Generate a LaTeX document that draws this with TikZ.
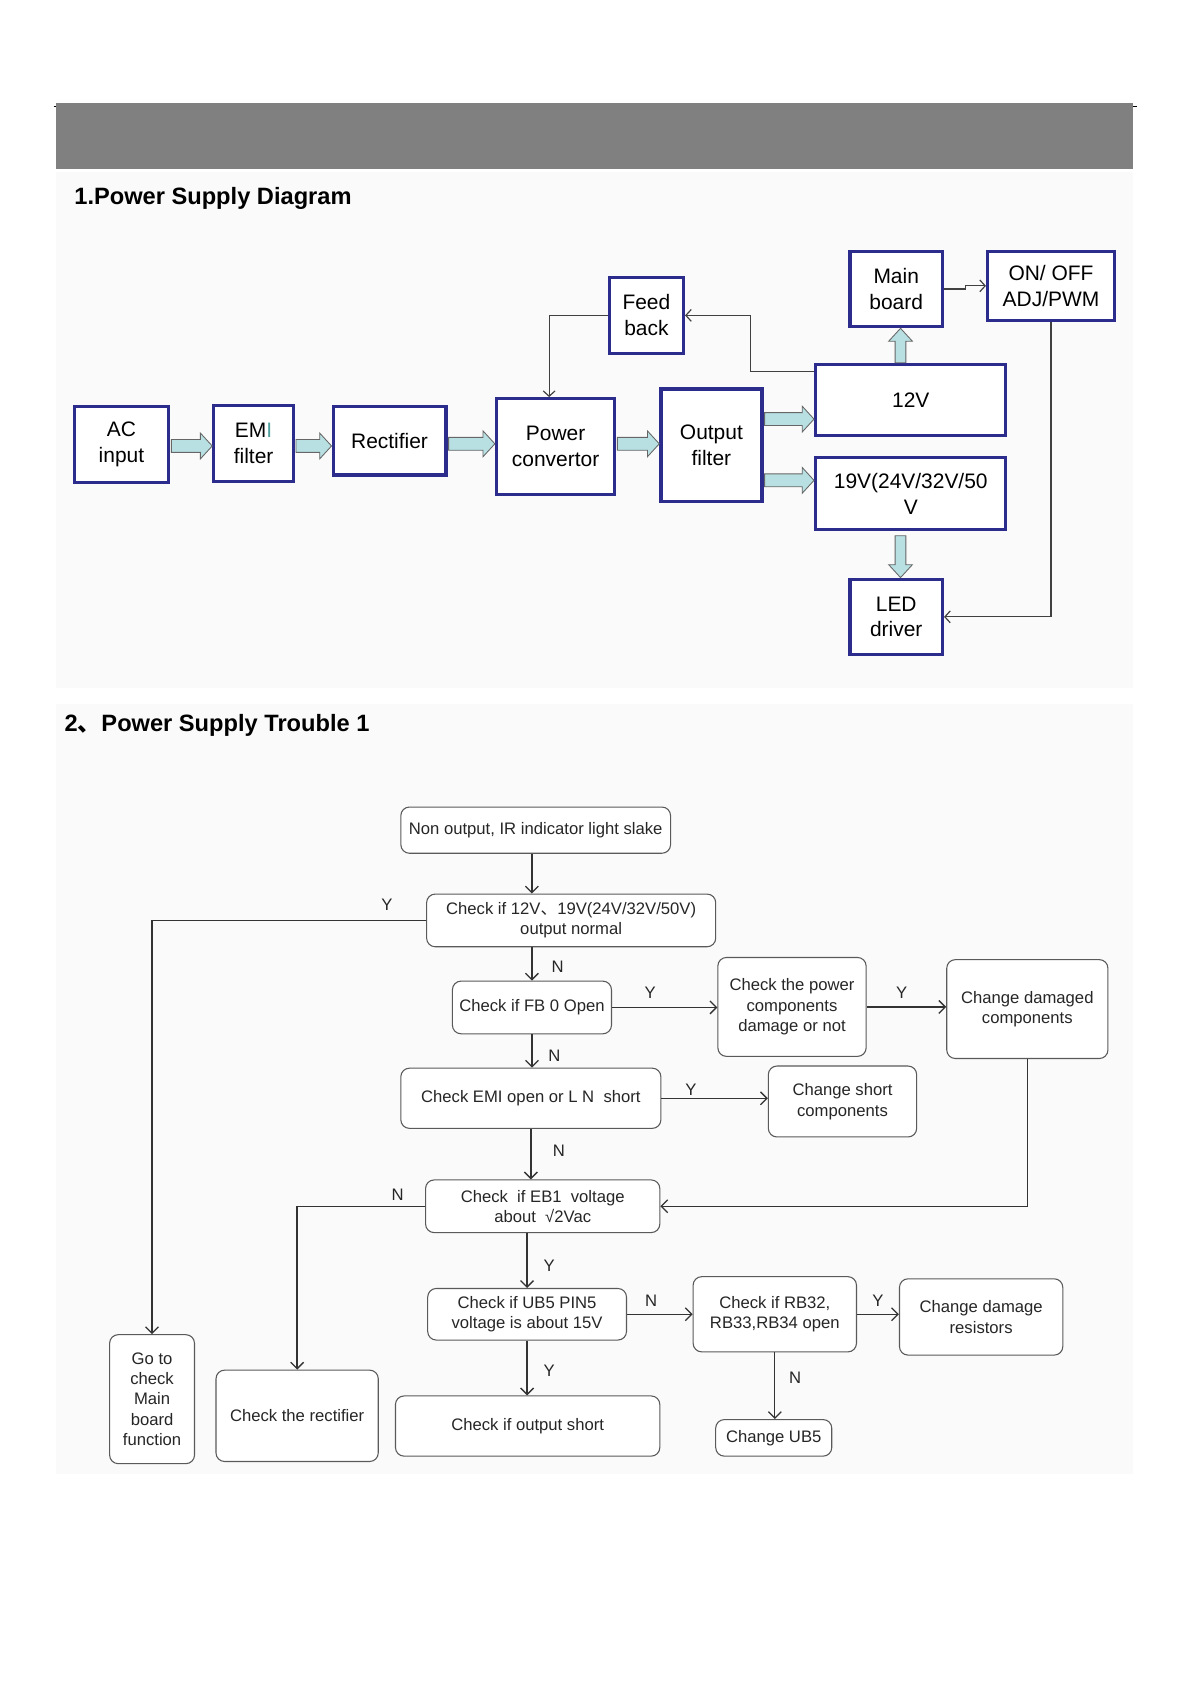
\documentclass[tikz,border=0pt]{standalone}
\usepackage{fontspec}
\setmainfont{Liberation Sans}
\newfontfamily\cjk{Noto Sans CJK SC}
\usetikzlibrary{arrows.meta,calc}
\definecolor{navy}{RGB}{44,44,140}
\definecolor{afill}{RGB}{184,224,226}
\definecolor{tealI}{RGB}{80,160,160}
\definecolor{fgray}{RGB}{90,90,90}
\definecolor{bgpan}{RGB}{250,250,250}
\newcommand\harrow[3]{%
  \path[blockarrow] let \p1=(#1.east), \p2=(#2.west), \p3=(0,#3) in
  (\x1+1pt,\y3+6pt) -- (\x2-11pt,\y3+6pt) -- (\x2-11pt,\y3+12pt) -- (\x2,\y3)
  -- (\x2-11pt,\y3-12pt) -- (\x2-11pt,\y3-6pt) -- (\x1+1pt,\y3-6pt) -- cycle;}
\newcommand\varrowup[3]{%
  \path[blockarrow] let \p1=(#1.north), \p2=(#2.south), \p3=(#3,0) in
  (\x3-5pt,\y1) -- (\x3-5pt,\y2-12pt) -- (\x3-11pt,\y2-12pt) -- (\x3,\y2)
  -- (\x3+11pt,\y2-12pt) -- (\x3+5pt,\y2-12pt) -- (\x3+5pt,\y1) -- cycle;}
\newcommand\varrowdown[3]{%
  \path[blockarrow] let \p1=(#1.south), \p2=(#2.north), \p3=(#3,0) in
  (\x3-5pt,\y1-4pt) -- (\x3-5pt,\y2+12pt) -- (\x3-11pt,\y2+12pt) -- (\x3,\y2)
  -- (\x3+11pt,\y2+12pt) -- (\x3+5pt,\y2+12pt) -- (\x3+5pt,\y1-4pt) -- cycle;}
\begin{document}
\begin{tikzpicture}[x=1pt,y=-1pt,
  bbox/.style={draw=navy, line width=3pt, fill=white, inner sep=0pt, align=center,
    font=\fontsize{19.5}{24}\selectfont},
  fbox/.style={draw=fgray, line width=1pt, rounded corners=8pt, fill=white, inner sep=0pt,
    align=center, text=black!85, font=\fontsize{15.5}{19}\selectfont},
  conn/.style={draw=black!75, line width=1.1pt, -{Straight Barb[length=5pt,width=11pt]}},
  fconn/.style={draw=black!80, line width=1.2pt, -{Straight Barb[length=6pt,width=12pt]}},
  lbl/.style={text=black!85, font=\fontsize{15.5}{19}\selectfont, inner sep=0pt},
  blockarrow/.style={fill=afill, draw=black!60, line width=0.8pt},
  ttl/.style={font=\fontsize{22}{26}\selectfont\bfseries, anchor=west, inner sep=0pt}]
\useasboundingbox (0,0) rectangle (1108,1568);
\fill[white] (0,0) rectangle (1108,1568);
\fill[bgpan] (52,160) rectangle (1054,640);
\fill[bgpan] (52,655) rectangle (1054,1372);
% header bar
\draw[black, line width=0.8pt] (50,99) -- (1058,99);
\fill[black!50] (52,96) rectangle (1054,157);
\node[ttl] (t1) at (69,185) {1.Power Supply Diagram};
\node[ttl] (t2) at (60,675) {2{\cjk 、}Power Supply Trouble 1};
% ---- block diagram ----
\node[bbox, minimum width=88pt, minimum height=71pt] (ac) at (113,413.5) {AC\\input};
\node[bbox, minimum width=74pt, minimum height=71pt] (emi) at (236,412.5) {EM\textcolor{tealI}{I}\\filter};
\node[bbox, minimum width=105pt, minimum height=64pt] (rect) at (362.5,410) {Rectifier};
\node[bbox, minimum width=110pt, minimum height=89pt] (pc) at (517,415.5) {Power\\convertor};
\node[bbox, minimum width=94pt, minimum height=105pt] (of) at (662,414.5) {Output\\filter};
\node[bbox, minimum width=69pt, minimum height=71pt] (fb) at (601.5,293.5) {Feed\\back};
\node[bbox, minimum width=86pt, minimum height=70pt] (mb) at (834,269) {Main\\board};
\node[bbox, minimum width=118pt, minimum height=64pt] (onoff) at (978,266) {ON/ OFF\\ADJ/PWM};
\node[bbox, minimum width=177pt, minimum height=66pt] (v12) at (847.5,372) {12V};
\node[bbox, minimum width=177pt, minimum height=67pt] (v19) at (847.5,459.5) {19V(24V/32V/50\\V};
\node[bbox, minimum width=86pt, minimum height=70pt] (led) at (834,574) {LED\\driver};
\harrow{ac}{emi}{415}
\harrow{emi}{rect}{415}
\harrow{rect}{pc}{413}
\harrow{pc}{of}{413}
\harrow{of}{v12}{390}
\harrow{of}{v19}{447}
\varrowup{v12}{mb}{838}
\varrowdown{v19}{led}{838}
\draw[conn] (fb.west) -| ([xshift=-6pt]pc.north);
\draw[conn] ([yshift=-8pt]v12.north west) -| ([xshift=61pt]fb.east) -- (fb.east);
\draw[conn] (mb.east) -- ++(20,0) |- (onoff.west);
\draw[conn] (onoff.south) |- (led.east);
% ---- flowchart ----
\node[fbox, minimum width=251pt, minimum height=43pt] (n1) at (498.5,772.5) {Non output, IR indicator light slake};
\node[fbox, minimum width=269pt, minimum height=49pt] (n2) at (531.5,856.5) {Check if 12V{\cjk 、}19V(24V/32V/50V)\\output normal};
\node[fbox, minimum width=148pt, minimum height=49pt] (n3) at (495,937.5) {Check if FB 0 Open};
\node[fbox, minimum width=138pt, minimum height=92pt] (n4) at (737,937) {Check the power\\components\\damage or not};
\node[fbox, minimum width=150pt, minimum height=92pt] (n5) at (956,939) {Change damaged\\components};
\node[fbox, minimum width=242pt, minimum height=56pt] (n6) at (494,1022) {Check EMI open or L N\ \ short};
\node[fbox, minimum width=138pt, minimum height=66pt] (n7) at (784,1025) {Change short\\components};
\node[fbox, minimum width=218pt, minimum height=49pt] (n8) at (505,1122.5) {Check\ \ if EB1\ \ voltage\\about\ \ √2Vac};
\node[fbox, minimum width=185pt, minimum height=48pt] (n9) at (490.5,1223) {Check if UB5 PIN5\\voltage is about 15V};
\node[fbox, minimum width=152pt, minimum height=70pt] (n10) at (721,1223) {Check if RB32,\\RB33,RB34 open};
\node[fbox, minimum width=152pt, minimum height=71pt] (n11) at (913,1225.5) {Change damage\\resistors};
\node[fbox, minimum width=246pt, minimum height=56pt] (n12) at (491,1327) {Check if output short};
\node[fbox, minimum width=108pt, minimum height=34pt] (n13) at (720,1338) {Change UB5};
\node[fbox, minimum width=151pt, minimum height=85pt] (n14) at (276.5,1317.5) {Check the rectifier};
\node[fbox, minimum width=79pt, minimum height=120pt] (n15) at (141.5,1302) {Go to\\check\\Main\\board\\function};
\draw[fconn] ([xshift=-3.5pt]n1.south) -- ([xshift=-3.5pt]n1.south |- n2.north);
\draw[fconn] (n2.west) -| (n15.north);
\draw[fconn] (n3.north |- n2.south) -- (n3.north);
\draw[fconn] (n3.east) -- (n4.west |- n3.east);
\draw[fconn] (n4.east) -- (n5.west |- n4.east);
\draw[fconn] (n3.south) -- (n3.south |- n6.north);
\draw[fconn] (n6.east) -- (n7.west |- n6.east);
\draw[fconn] (n6.south) -- (n6.south |- n8.north);
\draw[fconn] (n5.south) |- (n8.east);
\draw[fconn] (n8.west) -| (n14.north);
\draw[fconn] (n9.north |- n8.south) -- (n9.north);
\draw[fconn] (n9.east) -- (n10.west |- n9.east);
\draw[fconn] (n10.east) -- (n11.west |- n10.east);
\draw[fconn] (n9.south) -- (n9.south |- n12.north);
\draw[fconn] (n10.south) -- (n10.south |- n13.north);
\node[lbl] (y1) at (360,842) {Y};
\node[lbl] (l2) at (519,900) {N};
\node[lbl] (l3) at (605,924) {Y};
\node[lbl] (l4) at (839,924) {Y};
\node[lbl] (l5) at (516,982) {N};
\node[lbl] (l6) at (643,1014) {Y};
\node[lbl] (l7) at (520,1071) {N};
\node[lbl] (l8) at (370,1112) {N};
\node[lbl] (l9) at (511,1178) {Y};
\node[lbl] (l10) at (606,1210) {N};
\node[lbl] (l11) at (817,1210) {Y};
\node[lbl] (l12) at (511,1276) {Y};
\node[lbl] (l13) at (740,1282) {N};
\end{tikzpicture}
\end{document}
